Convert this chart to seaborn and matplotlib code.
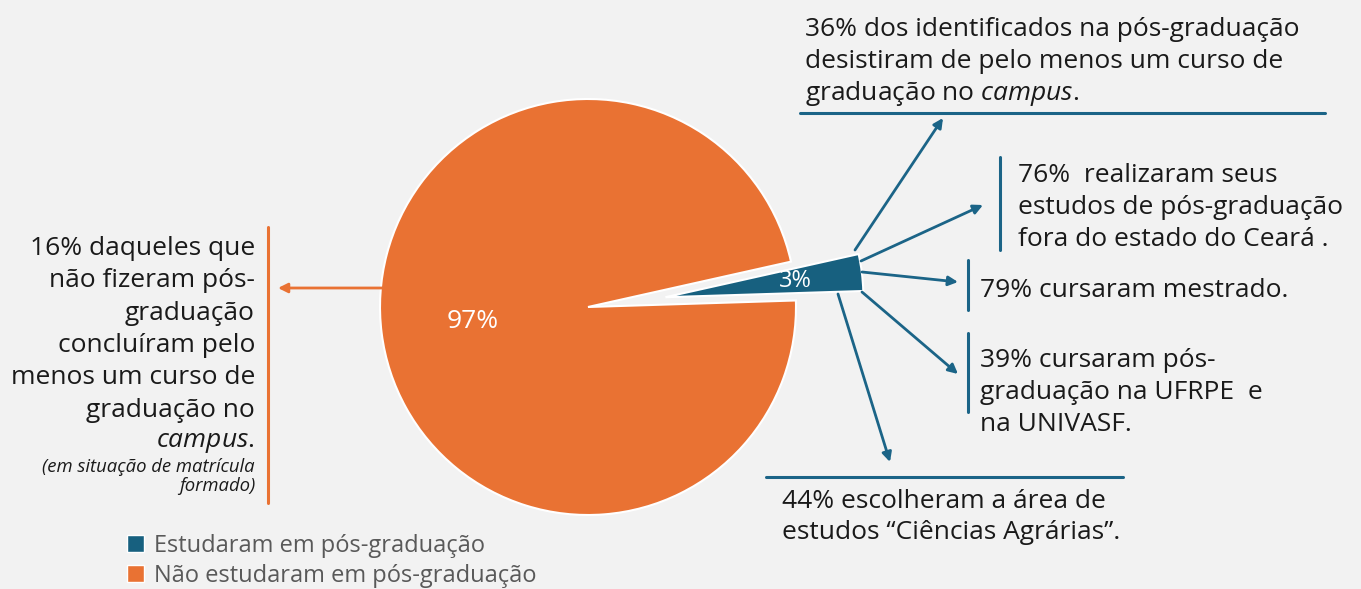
import matplotlib
matplotlib.use("Agg")
import matplotlib.pyplot as plt
import seaborn as sns
import numpy as np
from matplotlib.patches import Patch

# ---- data ----
categories = ["Estudaram em pós-graduação", "Não estudaram em pós-graduação"]
values = [3, 97]
colors = ["#17607F", "#E97233"]

blue_notes = [
    ["36% dos identificados na pós-graduação",
     "desistiram de pelo menos um curso de",
     r"graduação no $\mathit{campus.}$"],
    ["76%  realizaram seus", "estudos de pós-graduação", "fora do estado do Ceará ."],
    ["79% cursaram mestrado."],
    ["39% cursaram pós-", "graduação na UFRPE  e", "na UNIVASF."],
    ["44% escolheram a área de", "estudos \u201cCiências Agrárias\u201d."],
]
orange_note = ["16% daqueles que", "não fizeram pós-", "graduação",
               "concluíram pelo", "menos um curso de", "graduação no",
               r"$\mathit{campus}$."]
orange_small = ["(em situação de matrícula", "formado)"]

sns.set_style("white")
plt.rcParams["font.family"] = ["Open Sans", "DejaVu Sans"]
plt.rcParams["mathtext.fontset"] = "custom"
plt.rcParams["mathtext.rm"] = "Open Sans"
plt.rcParams["mathtext.it"] = "Open Sans:italic"

BG = "#F2F2F2"
BLUE = "#1B6487"
ORANGE = "#E97233"
W, H = 1361, 589
FS = 19

fig = plt.figure(figsize=(W / 100, H / 100), dpi=100, facecolor=BG)
ax = fig.add_axes([0, 0, 1, 1])
ax.set_facecolor(BG)

wedges, texts, autotexts = ax.pie(
    values, colors=colors, explode=[78, 0], startangle=-1.8,
    counterclock=False, center=(588, 307), radius=208, frame=True,
    autopct="%d%%", pctdistance=0.56,
    wedgeprops=dict(edgecolor="white", linewidth=1.5),
    textprops=dict(color="white", fontsize=19),
)
# the exploded slice is drawn slightly shorter, as in the original
w0 = wedges[0]
w0.set_radius(198)
mid = np.deg2rad((w0.theta1 + w0.theta2) / 2)
cx, cy = w0.center
autotexts[0].set_position((cx + 0.66 * w0.r * np.cos(mid), cy + 0.66 * w0.r * np.sin(mid)))
autotexts[0].set_fontsize(17)
ax.set_xlim(0, W)
ax.set_ylim(H, 0)
ax.set_aspect("equal")
ax.axis("off")

# ---- annotations (blue side) ----
lw = 2.2
ax.plot([800, 1325], [113, 113], color=BLUE, lw=lw)
ax.plot([1000, 1000], [157, 250], color=BLUE, lw=lw)
ax.plot([968, 968], [260, 310], color=BLUE, lw=lw)
ax.plot([968, 968], [333, 412], color=BLUE, lw=lw)
ax.plot([766, 1123], [477, 477], color=BLUE, lw=lw)

arrows = [((855, 250), (943, 118)),
          ((861, 261), (983, 205)),
          ((862, 272), (958, 282)),
          ((862, 292), (958, 374)),
          ((838, 294), (890, 462))]
for (x0, y0), (x1, y1) in arrows:
    ax.annotate("", xy=(x1, y1), xytext=(x0, y0),
                arrowprops=dict(arrowstyle="-|>", color=BLUE, lw=2,
                                mutation_scale=14, shrinkA=0, shrinkB=0))

block_pos = [(805, [36, 68, 100]),
             (1018, [182, 214, 246]),
             (980, [297]),
             (980, [367, 399, 431]),
             (782, [508, 539])]
for lines, (x, ys) in zip(blue_notes, block_pos):
    for line, y in zip(lines, ys):
        ax.text(x, y, line, fontsize=FS, color="#1A1A1A", ha="left", va="baseline")

# ---- annotations (orange side) ----
ax.plot([268, 268], [227, 503], color=ORANGE, lw=2.2)
ax.annotate("", xy=(278, 288), xytext=(382, 288),
            arrowprops=dict(arrowstyle="-|>", color=ORANGE, lw=2,
                            mutation_scale=14, shrinkA=0, shrinkB=0))
for line, y in zip(orange_note, [255, 287, 320, 352, 384, 417, 447]):
    ax.text(255, y, line, fontsize=FS, color="#1A1A1A", ha="right", va="baseline")
for line, y in zip(orange_small, [472, 491]):
    ax.text(255, y, line, fontsize=13.3, color="#1A1A1A", ha="right",
            va="baseline", style="italic")

# ---- legend ----
handles = [Patch(facecolor=c, edgecolor="white", linewidth=1) for c in colors]
leg = ax.legend(handles, categories, loc="upper left",
                bbox_to_anchor=(127, 534), bbox_transform=ax.transData,
                frameon=False, fontsize=17, labelcolor="#595959",
                handlelength=0.7, handleheight=0.7, handletextpad=0.45,
                labelspacing=0.25, borderpad=0, borderaxespad=0)

fig.savefig("out.png", dpi=100, facecolor=BG)
